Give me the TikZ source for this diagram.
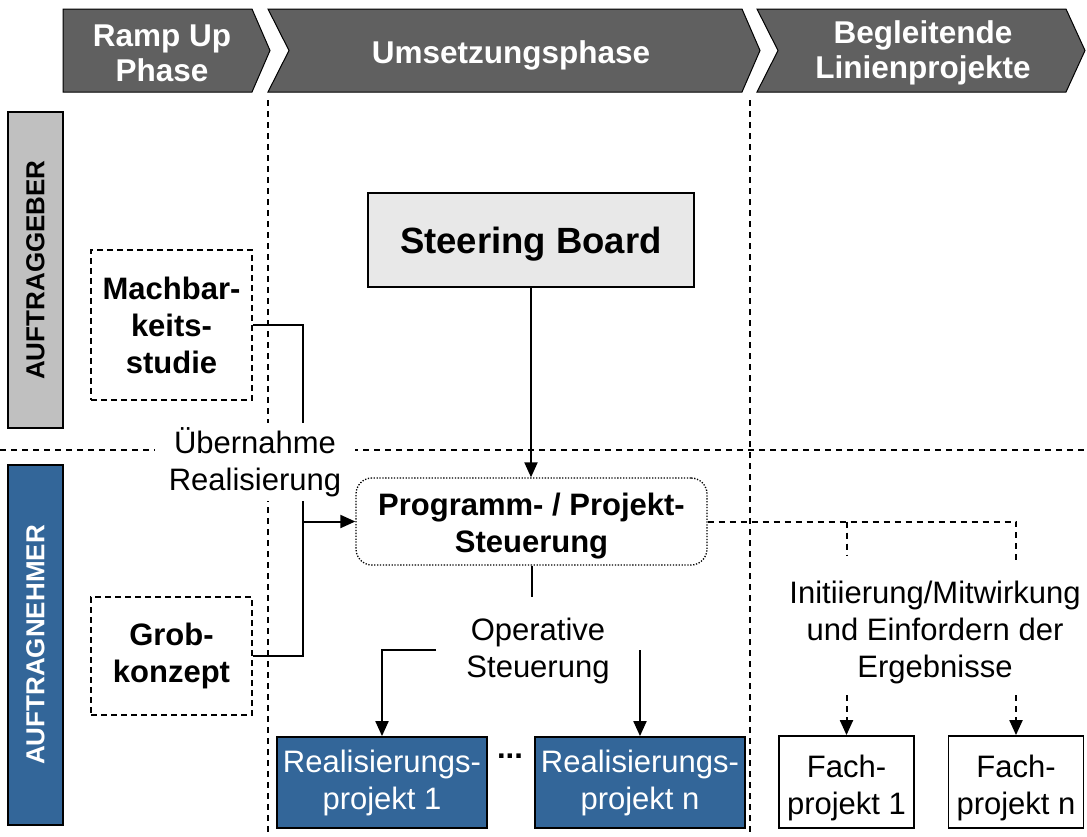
\documentclass[tikz,border=0pt]{standalone}
\usepackage{fontspec}
\setmainfont{Liberation Sans}
\usetikzlibrary{arrows.meta,calc}
\definecolor{phasegray}{RGB}{96,96,96}
\definecolor{ngblue}{RGB}{51,102,153}
\definecolor{gbgray}{RGB}{192,192,192}
\definecolor{boardgray}{RGB}{232,232,232}
\newcommand{\bigfont}{\fontsize{31}{37}\selectfont}
\tikzstyle{phase}=[fill=phasegray, draw=black, line width=1pt]
\tikzstyle{phasetext}=[text=white, font=\fontsize{31.5}{35}\selectfont\bfseries, align=center]
\tikzstyle{sidebar}=[rectangle, draw=black, line width=1.5pt, minimum width=55pt, inner sep=0pt, anchor=center]
\tikzstyle{sidetext}=[font=\fontsize{26}{30}\selectfont\bfseries, rotate=90]
\tikzstyle{prebox}=[rectangle, draw=black, dash pattern=on 6pt off 4pt, line width=1.6pt, minimum width=161pt, align=center, font=\bigfont\bfseries]
\tikzstyle{realbox}=[rectangle, fill=ngblue, draw=black, line width=1.8pt, minimum width=210pt, minimum height=91pt, inner sep=0pt, text=white, align=center, font=\bigfont]
\tikzstyle{fachbox}=[rectangle, draw=black, line width=1.8pt, minimum width=135pt, minimum height=92pt, inner sep=0pt]
\tikzstyle{annot}=[align=center, font=\bigfont]
\tikzstyle{sep}=[dash pattern=on 6pt off 5pt, line width=1.8pt]
\tikzstyle{conn}=[line width=2pt]
\tikzstyle{dconn}=[line width=2pt, dash pattern=on 6pt off 5pt]
\tikzstyle{arr}=[-{Triangle[length=15pt,width=13pt]}]
\begin{document}
\begin{tikzpicture}[x=1pt,y=-1pt]
	\useasboundingbox (0,0) rectangle (1087,836);

	% phases
	\draw[phase] (63,9) -- (252,9) -- (270,50.5) -- (252,92) -- (63,92) -- cycle;
	\draw[phase] (268,9) -- (742,9) -- (760,50.5) -- (742,92) -- (268,92) -- (289,50.5) -- cycle;
	\draw[phase] (757,9) -- (1066,9) -- (1085,50.5) -- (1066,92) -- (757,92) -- (778,50.5) -- cycle;
	\node[phasetext](rampup) at (162,53) {Ramp Up\\Phase};
	\node[phasetext](umsetzung) at (511,55) {Umsetzungsphase};
	\node[phasetext](linie) at (923,53) {Begleitende\\Linienprojekte};

	% separators
	\draw[sep] (268,100) -- (268,836);
	\draw[sep] (750,100) -- (750,836);
	\draw[sep] (0,450) -- (1087,450);

	% sides
	\node[sidebar, fill=gbgray, minimum height=316pt](geber) at (35.5,270) {};
	\node[sidetext] at (geber.center) {AUFTRAGGEBER};
	\node[sidebar, fill=ngblue, minimum height=360pt](nehmer) at (35.5,645) {};
	\node[sidetext, text=white] at (nehmer.center) {AUFTRAGNEHMER};

	% boxes
	\node[prebox, minimum height=150pt](machbar) at (171.5,325) {Machbar-\\keits-\\studie};
	\node[prebox, minimum height=118pt](grob) at (171.5,656) {Grob-\\konzept};
	\node[rectangle, fill=boardgray, draw=black, line width=1.8pt, minimum width=326pt, minimum height=94pt, text depth=0pt, font=\fontsize{36.5}{40}\selectfont\bfseries](board) at (531,240) {Steering Board};
	\node[rectangle, rounded corners=16pt, draw=black, line width=1.3pt, dash pattern=on 1.3pt off 1.6pt, minimum width=351pt, minimum height=87pt](prog) at (531.5,521.5) {};
	\node[align=center, font=\bigfont\bfseries](progtext) at (531.5,526) {Programm- / Projekt-\\Steuerung};
	\node[realbox](real1) at (382,782.5) {Realisierungs-\\projekt 1};
	\node[realbox](realn) at (640,782.5) {Realisierungs-\\projekt n};
	\node[font=\bigfont\bfseries, anchor=base](dots) at (510,758) {...};
	\node[fachbox](fach1) at (846.5,782) {};
	\node[annot](fach1text) at (846.5,788) {Fach-\\projekt 1};
	\node[fachbox](fachn) at (1016,782) {};
	\node[annot](fachntext) at (1016,788) {Fach-\\projekt n};

	% connectors
	\coordinate (bus) at (303,521.5);
	\draw[conn] (machbar.east) -| (bus) |- (grob.east);
	\draw[conn, arr] (bus) -- (prog.west);
	\draw[conn, arr] (board.south) -- (board.south |- prog.north);

	\coordinate (opstem) at (531.5,597);
	\coordinate (opleft) at (436,650);
	\coordinate (opright) at (640,650);
	\draw[conn] (prog.south) -- (opstem);
	\draw[conn, arr] (opleft) -| (real1.north);
	\draw[conn, arr] (opright) -- (realn.north);

	\coordinate (fork1) at (846.5,555);
	\coordinate (forkn) at (1016,560);
	\coordinate (in1) at (846.5,695);
	\coordinate (inn) at (1016,695);
	\draw[dconn] (prog.east) -| (forkn);
	\draw[dconn] (fork1 |- prog.east) -- (fork1);
	\draw[dconn, arr] (in1) -- (fach1.north);
	\draw[dconn, arr] (inn) -- (fachn.north);

	% labels
	\node[annot, fill=white, inner xsep=14pt, inner ysep=4pt](uebernahme) at (255,462) {Übernahme\\Realisierung};
	\node[annot](operativ) at (538,651) {Operative\\Steuerung};
	\node[annot](initiierung) at (935,632) {Initiierung/Mitwirkung\\und Einfordern der\\Ergebnisse};
\end{tikzpicture}
\end{document}
